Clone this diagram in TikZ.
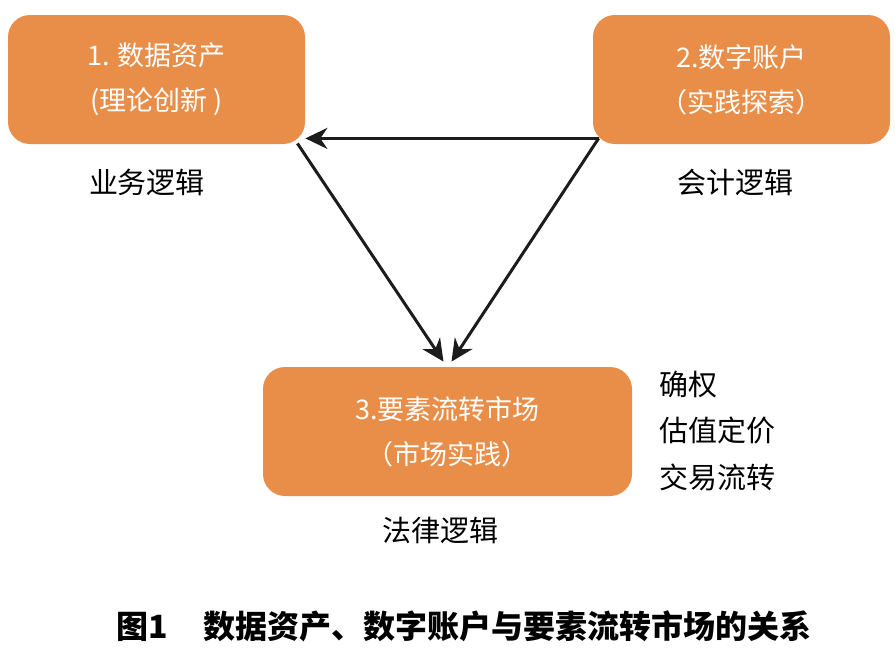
\documentclass[tikz,border=0pt]{standalone}
\usepackage{fontspec}
\setmainfont{Noto Sans CJK SC}
\usepackage{tikz}
\usetikzlibrary{calc,arrows.meta}
\definecolor{chengse}{HTML}{E88E48}
\definecolor{moshui}{HTML}{1C1C1C}

\begin{document}
\begin{tikzpicture}[x=0.5pt, y=-0.5pt,
    kuang/.style={draw=none, fill=chengse, rounded corners=11pt, text=white,
      minimum width=148.5pt, minimum height=64.5pt, align=center,
      font=\fontsize{13.5}{22.5}\selectfont},
    luoji/.style={font=\fontsize{14.5}{18}\selectfont, text=black},
    jiantou/.style={draw=moshui, line width=1.5pt, -{Stealth[length=11pt,width=10.5pt]}}]
        \useasboundingbox (0,0) rectangle (895,649);
        % boxes
        \node[kuang](box1) at (156.5,79.5) {1. 数据资产\\(理论创新 )};
        \node[kuang](box2) at (741.5,79.5) {2.数字账户\\（实践探索）};
        \node[kuang, minimum width=184.5pt](box3) at (447.5,431.5) {3.要素流转市场\\（市场实践）};
        % logic labels
        \node[luoji](lab1) at (147,182) {业务逻辑};
        \node[luoji](lab2) at (735,182) {会计逻辑};
        \node[luoji](lab3) at (440,530) {法律逻辑};
        % market functions
        \node[luoji, anchor=west, align=left, font=\fontsize{14.5}{23.2}\selectfont](gongneng) at (652,431)
          {确权\\估值定价\\交易流转};
        % arrows
        \coordinate(start2) at ($(box2.south west)+(6,-6)$);
        \coordinate(end1) at ($(box1.south east)+(0,-6)$);
        \coordinate(start1) at ($(box1.south east)+(-8,-1)$);
        \coordinate(tipA) at ($(box3.north)+(-4,-5)$);
        \coordinate(tipB) at ($(box3.north)+(4,-5)$);
        \path[jiantou](start2) to (end1);
        \path[jiantou](start1) to (tipA);
        \path[jiantou](start2) to (tipB);
        % caption
        \node[font=\fontsize{16}{20}\selectfont\bfseries](caption) at (464,626)
          {图1\hspace{1.1em}数据资产、数字账户与要素流转市场的关系};
\end{tikzpicture}
\end{document}
